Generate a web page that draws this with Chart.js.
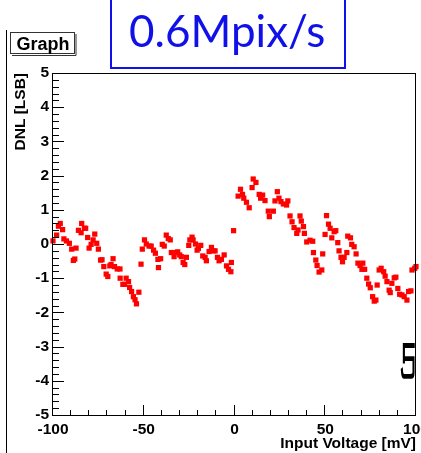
<!DOCTYPE html>
<html>
<head>
<meta charset="utf-8">
<script src="https://cdn.jsdelivr.net/npm/chart.js@4"></script>
<style>
  html, body { margin: 0; padding: 0; background: #fff; }
  #wrap { position: relative; width: 421px; height: 453px; overflow: hidden; }
  canvas { display: block; }
</style>
</head>
<body>
<div id="wrap"><canvas id="c" width="421" height="453"></canvas></div>
<script>
// Input voltage of each measured code transition [mV]
const voltage = [
  -100, -98, -97, -96, -94.7, -94, -92.6, -91, -89.7, -88.8,
  -88, -87.3, -86, -84.5, -84.2, -82.7, -82, -80.9, -80.1, -79,
  -77.9, -77, -75.9, -75, -73.8, -73, -72, -70.7, -69.8, -68.7,
  -68, -66.9, -66.1, -64.6, -63.1, -63, -61.5, -60.6, -59.7, -58.4,
  -57.8, -56.7, -55.7, -54.8, -54, -52.7, -51.5, -50.8,
  -49.6, -48.6, -47.1, -45.9, -44.6, -43.6, -42.2, -41.9, -40.7, -39.8,
  -38.7, -37.6, -36.5, -35.4, -34.8, -33.3, -32, -31.3, -30.2, -29.3,
  -28.3, -27.4, -26.5, -25.2, -24.6, -23.4, -22.8, -21.5, -20.6, -19.9,
  -18.6, -17.5, -16.2, -15.5, -14, -12.7, -11.8, -10.7, -9.4, -8.5,
  -7.2, -5.7, -4.4, -3.3, -2, -1.7, -0.5,
  2, 3.3, 4.4, 5.1, 6.6, 8.1, 9.7, 10.3, 11.8, 13.6,
  14.4, 15.5, 16.8, 18.6, 19.2, 21.4, 22.3, 23.6, 24.5, 25.6,
  26.9, 28.7, 29.4, 30.6, 31.7, 32.8, 34.3, 35, 36.1, 36.8,
  38, 38.5, 39.8, 41.6, 43.1, 43.5, 44.8, 45.5, 46.6, 48.1,
  48.6,
  49.9, 50.7, 51.8, 52.7, 53.6, 54.9, 55.8, 56.9, 57.6, 58.7,
  59.5, 60.4, 61.9, 62.4, 63.9, 64.6, 65.9, 67, 68, 69.2,
  70.2, 70.7, 71.7, 72.9, 73.9, 74.8, 76.1, 77, 77.9, 78.6,
  79.7, 80.8, 82.2, 83, 84, 85.2, 85.8, 86.7, 88, 88.9,
  90, 91, 92.3, 93.5, 95, 95.9, 97.2, 97.8, 99.3, 100
];

// Differential non-linearity at each of those voltages [LSB]
const dnl = [
  0.09, 0.26, 0.52, 0.6, 0.42, 0.15, 0.09, 0.02, -0.15, -0.48,
  -0.44, -0.12, 0.4, 0.33, 0.6, 0.46, 0.46, 0.19, -0.12, -0.01,
  0.12, 0.29, 0.02, -0.15, -0.47, -0.46, -0.66, -0.88, -0.95, -0.64,
  -0.6, -0.43, -0.66, -0.73, -0.73, -1.0, -1.18, -1.18, -1.0, -1.1,
  -1.27, -1.39, -1.54, -1.63, -1.75, -1.41, -0.59, -0.15,
  0.12, 0.0, -0.06, -0.06, -0.18, -0.27, -0.45, -0.69, -0.43, -0.01,
  -0.06, 0.26, 0.16, 0.12, -0.25, -0.37, -0.25, -0.23, -0.32, -0.37,
  -0.54, -0.6, -0.39, -0.04, 0.12, 0.2, 0.12, 0.0, -0.18, -0.13,
  -0.04, -0.35, -0.39, -0.49, -0.22, -0.1, -0.2, -0.2, -0.39, -0.49,
  -0.45, -0.32, -0.64, -0.74, -0.81, -0.54, 0.39,
  1.4, 1.6, 1.45, 1.34, 1.22, 1.06, 1.65, 1.9, 1.8, 1.45,
  1.34, 1.43, 1.27, 0.96, 0.8, 0.96, 1.26, 1.53, 1.34, 1.24,
  1.17, 1.14, 1.26, 0.82, 0.65, 0.48, 0.31, 0.41, 0.82, 0.67,
  0.51, 0.31, 0.06, 0.11, 0.08, -0.25, -0.47, -0.63, -0.82, -0.76,
  -0.29,
  0.28, 0.83, 0.58, 0.46, 0.18, 0.36, 0.39, 0.04, -0.2, -0.39,
  -0.52, -0.39, -0.25, 0.23, 0.18, -0.01, -0.08, -0.29, -0.56, -0.63,
  -0.74, -0.56, -0.74, -1.0, -1.17, -1.28, -1.54, -1.67, -1.64, -1.2,
  -0.76, -0.71, -0.81, -0.94, -1.1, -1.35, -1.42, -1.15, -0.99, -0.97,
  -1.3, -1.47, -1.49, -1.54, -1.64, -1.39, -1.37, -0.76, -0.71, -0.66
];

// Axis ranges and tick spacing
const xRange = [-100, 100];
const yRange = [-5, 5];
const xMajorStep = 50, xMinorStep = 10;
const yMajorStep = 1, yMinorStep = 0.2;

const graphTitle = 'Graph';
const rateLabel = '0.6Mpix/s';

const boldFont = 'Liberation Sans, Arial, sans-serif';

// Frame, inward ticks and the surrounding labels drawn on top of the plot
const framePlugin = {
  id: 'frame',
  afterDraw(chart) {
    const { ctx, chartArea: a } = chart;
    const xs = chart.scales.x, ys = chart.scales.y;
    ctx.save();
    ctx.strokeStyle = '#000';
    ctx.lineWidth = 1;

    // plot frame
    ctx.strokeRect(Math.round(a.left) - 0.5, Math.round(a.top) + 0.5,
                   Math.round(a.right - a.left), Math.round(a.bottom - a.top));

    // ticks pointing into the plot
    ctx.beginPath();
    const eps = 1e-6;
    for (let v = yRange[0]; v <= yRange[1] + eps; v += yMinorStep) {
      const py = Math.round(ys.getPixelForValue(v)) + 0.5;
      const major = Math.abs(v / yMajorStep - Math.round(v / yMajorStep)) < 1e-4;
      const len = major ? 11 : 6;
      ctx.moveTo(a.left, py);
      ctx.lineTo(a.left + len, py);
    }
    for (let v = xRange[0]; v <= xRange[1] + eps; v += xMinorStep) {
      const px = Math.round(xs.getPixelForValue(v)) - 0.5;
      const major = Math.abs(v / xMajorStep - Math.round(v / xMajorStep)) < 1e-4;
      const len = major ? 10 : 5;
      ctx.moveTo(px, a.bottom);
      ctx.lineTo(px, a.bottom - len);
    }
    ctx.stroke();

    // left edge of the canvas pad
    ctx.beginPath();
    ctx.moveTo(6.5, 30);
    ctx.lineTo(6.5, 453);
    ctx.stroke();

    // graph name box
    ctx.fillStyle = '#fff';
    ctx.fillRect(10, 32, 65, 22);
    ctx.strokeStyle = '#333';
    ctx.strokeRect(10.5, 32.5, 64, 21);
    ctx.beginPath();
    ctx.moveTo(76, 34); ctx.lineTo(76, 55.5); ctx.lineTo(12, 55.5);
    ctx.stroke();
    ctx.fillStyle = '#000';
    ctx.font = 'bold 18px ' + boldFont;
    ctx.textBaseline = 'alphabetic';
    ctx.textAlign = 'center';
    ctx.fillText(graphTitle, 43, 50);

    // rate label in its blue box
    ctx.strokeStyle = '#1010e8';
    ctx.lineWidth = 2;
    ctx.strokeRect(111, -5, 234, 73);
    ctx.fillStyle = '#1010e8';
    ctx.font = '44px Lato, sans-serif';
    ctx.textAlign = 'left';
    ctx.fillText(rateLabel, 129, 47);

    // glyph at the right edge
    ctx.fillStyle = '#000';
    ctx.font = 'bold 40px "Noto Sans CJK SC"';
    ctx.translate(417, 375);
    ctx.scale(-0.42, 1);
    ctx.textAlign = 'left';
    ctx.fillText('己', 0, 0);
    ctx.restore();
  }
};

const tickFont = { family: boldFont, weight: 'bold', size: 15.5 };

// keep the plot area fixed regardless of label overhang
function noOverhang(s) {
  s.paddingLeft = 0; s.paddingRight = 0;
  s.paddingTop = 0; s.paddingBottom = 0;
}

new Chart(document.getElementById('c'), {
  type: 'scatter',
  data: {
    datasets: [{
      data: voltage.map((v, i) => ({ x: v, y: dnl[i] })),
      pointStyle: 'rect',
      pointRadius: 3.7,
      pointHoverRadius: 3.7,
      backgroundColor: '#ff0000',
      borderWidth: 0,
      clip: false
    }]
  },
  options: {
    responsive: false,
    animation: false,
    events: [],
    layout: { padding: { left: 0, right: 5, top: 73, bottom: 0 } },
    plugins: { legend: { display: false }, tooltip: { enabled: false } },
    scales: {
      x: {
        type: 'linear',
        min: xRange[0], max: xRange[1],
        grid: { display: false, drawTicks: false },
        border: { display: false },
        ticks: {
          stepSize: xMajorStep, autoSkip: false, maxRotation: 0,
          color: '#000', font: tickFont, padding: 5
        },
        title: {
          display: true, text: 'Input Voltage [mV]', align: 'end',
          color: '#000', font: { family: boldFont, weight: 'bold', size: 15.5 },
          padding: 0
        },
        afterFit(s) { s.height = 38; noOverhang(s); }
      },
      y: {
        type: 'linear',
        min: yRange[0], max: yRange[1],
        grid: { display: false, drawTicks: false },
        border: { display: false },
        ticks: {
          stepSize: yMajorStep, autoSkip: false,
          color: '#000', font: tickFont, padding: 4
        },
        title: {
          display: true, text: 'DNL [LSB]', align: 'end',
          color: '#000', font: { family: boldFont, weight: 'bold', size: 15.5 },
          padding: { top: 11, bottom: 0 }
        },
        afterFit(s) { s.width = 53; noOverhang(s); }
      }
    }
  },
  plugins: [framePlugin]
});
</script>
</body>
</html>
